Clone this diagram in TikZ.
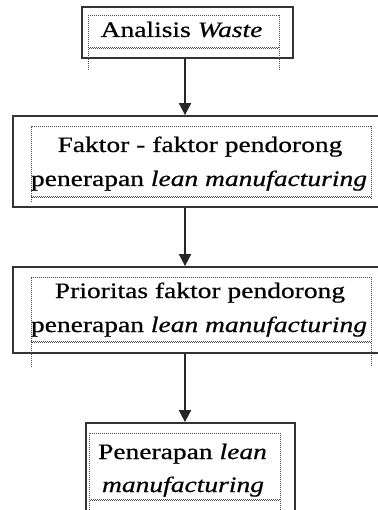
\documentclass[tikz,border=0pt]{standalone}
\usepackage{fontspec}
\setmainfont{Liberation Serif}[FakeStretch=1.25,FakeBold=0.6]
\usetikzlibrary{arrows.meta,calc}
\begin{document}
\begin{tikzpicture}[x=1pt,y=-1pt]
\tikzset{
 outerbox/.style={draw=black!80, line width=1.8pt, inner sep=0pt},
 dotline/.style={draw=black!70, line width=1pt, dash pattern=on 1pt off 1pt},
 dotline2/.style={draw=black!70, line width=1pt, dash pattern=on 1pt off 1pt, dash phase=1pt},
 txt/.style={font=\fontsize{22}{26}\selectfont, anchor=base, inner sep=0pt},
 arr/.style={draw=black!85, line width=1.8pt, -{Triangle[width=12pt,length=12pt]}},
}
\useasboundingbox (0,0) rectangle (377,510);
% outer boxes
\node[outerbox, minimum width=211pt, minimum height=51pt] (b1) at (187.5,32.5) {};
\node[outerbox, minimum width=367pt, minimum height=91pt] (b2) at (196.5,161.5) {};
\node[outerbox, minimum width=367pt, minimum height=86pt] (b3) at (196.5,310) {};
\node[outerbox, minimum width=209pt, minimum height=107pt] (b4) at (190.5,476.5) {};
% inner dotted frames
\draw[dotline] (88,70) -- (88,16) -- (279,16) -- (279,70);
\draw[dotline] (88,47.5) -- (279,47.5);
\draw[dotline2] (88,48.5) -- (279,48.5);
\draw[dotline] (31,202) -- (31,127) -- (371,127) -- (371,200);
\draw[dotline] (31,196.5) -- (371,196.5);
\draw[dotline2] (31,197.5) -- (371,197.5);
\draw[dotline] (31,367) -- (31,277) -- (371,277) -- (371,367);
\draw[dotline] (31,341.5) -- (371,341.5);
\draw[dotline2] (31,342.5) -- (371,342.5);
\draw[dotline] (89,520) -- (89,433) -- (280,433) -- (280,520);
\draw[dotline] (89,499.5) -- (280,499.5);
\draw[dotline2] (89,500.5) -- (280,500.5);
% texts
\node[txt] (t1) at (181.5,37) {Analisis \textit{Waste}};
\node[txt] (t2a) at (200,152) {Faktor - faktor pendorong};
\node[txt] (t2b) at (199,186) {penerapan \textit{lean manufacturing}};
\node[txt] (t3a) at (200,298) {Prioritas faktor pendorong};
\node[txt] (t3b) at (199,332) {penerapan \textit{lean manufacturing}};
\node[txt] (t4a) at (182.5,459) {Penerapan \textit{lean}};
\node[txt] (t4b) at (183,492) {\textit{manufacturing}};
% arrows
\coordinate (ax) at (185,0);
\draw[arr] (b1.south -| ax) -- (b2.north -| ax);
\draw[arr] (b2.south -| ax) -- (b3.north -| ax);
\draw[arr] (b3.south -| ax) -- (b4.north -| ax);
\end{tikzpicture}
\end{document}
